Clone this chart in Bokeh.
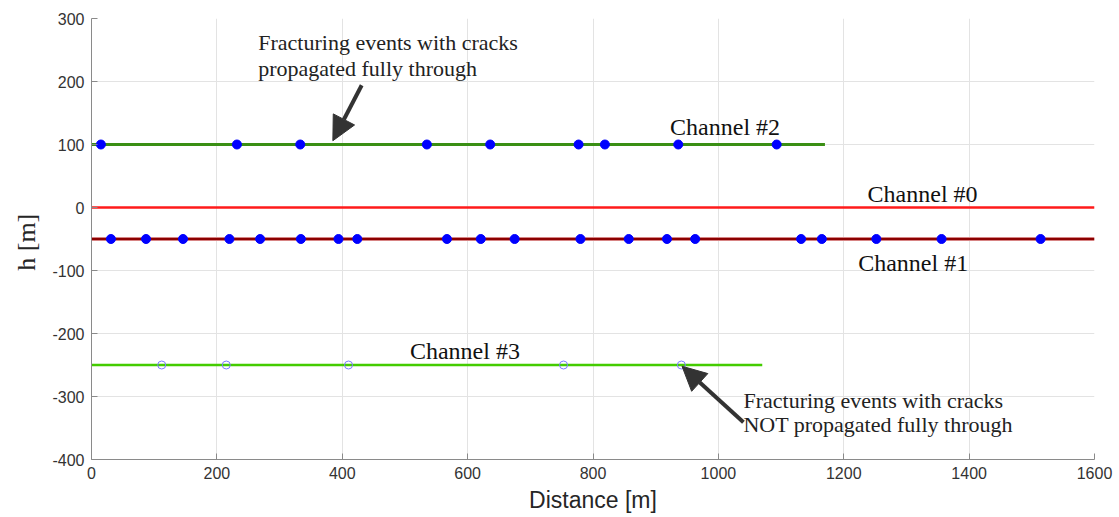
from bokeh.plotting import figure
from bokeh.models import Arrow, NormalHead, FixedTicker, Range1d, CustomJSTickFormatter
from bokeh.core.properties import value
from bokeh.embed import file_html
from bokeh.resources import INLINE

# ---- data ----
ch0_line_x = [0, 1600]
ch0_h = 0
ch1_line_x = [0, 1600]
ch1_h = -50
ch1_events = [31, 87, 146, 220, 269, 334, 394, 424, 567, 621, 675, 780, 857, 918, 963,
              1132, 1165, 1252, 1356, 1514]
ch2_line_x = [0, 1170]
ch2_h = 100
ch2_events = [15, 232, 333, 535, 636, 777, 819, 936, 1093]
ch3_line_x = [0, 1070]
ch3_h = -250
ch3_events = [112, 215, 410, 753, 941]

x_ticks = [0, 200, 400, 600, 800, 1000, 1200, 1400, 1600]
y_ticks = [-400, -300, -200, -100, 0, 100, 200, 300]

channel_labels = ["Channel #2", "Channel #0", "Channel #1", "Channel #3"]
channel_label_x = [923, 1238, 1223, 508]
channel_label_y = [128, 22, -88, -227]

note_full = ["Fracturing events with cracks", "propagated fully through"]
note_full_x = 266
note_full_y = [262, 221]
arrow_full = dict(x_start=431, y_start=194, x_end=385, y_end=106)

note_not = ["Fracturing events with cracks", "NOT propagated fully through"]
note_not_x = 1040
note_not_y = [-307, -345]
arrow_not = dict(x_start=1040, y_start=-341, x_end=942, y_end=-252)

# ---- figure ----
p = figure(width=1119, height=517, output_backend="svg", toolbar_location=None,
           x_range=Range1d(0, 1600), y_range=Range1d(-400, 300),
           min_border_left=91, min_border_right=25, min_border_top=18, min_border_bottom=58)
p.outline_line_color = None
p.background_fill_color = "white"

for ax in (p.xaxis, p.yaxis):
    ax.major_tick_in = 6
    ax.major_tick_out = 0
    ax.minor_tick_line_color = None
    ax.axis_line_color = "#8a8a8a"
    ax.major_tick_line_color = "#8a8a8a"
    ax.major_label_text_font = "Liberation Sans"
    ax.major_label_text_font_size = "16px"
    ax.major_label_text_color = "#333333"
    ax.major_label_standoff = 7
    ax.formatter = CustomJSTickFormatter(code="return String(tick);")

p.xaxis.ticker = FixedTicker(ticks=x_ticks)
p.yaxis.ticker = FixedTicker(ticks=y_ticks)
p.xaxis.axis_label = "Distance [m]"
p.xaxis.axis_label_text_font = "Liberation Sans"
p.xaxis.axis_label_text_font_size = "23px"
p.xaxis.axis_label_text_font_style = "normal"
p.xaxis.axis_label_text_color = "#262626"
p.xaxis.axis_label_standoff = 5

p.yaxis.axis_label = "h  [m]"
p.yaxis.axis_label_text_font = "Liberation Serif"
p.yaxis.axis_label_text_font_size = "26px"
p.yaxis.axis_label_text_font_style = "normal"
p.yaxis.axis_label_text_color = "#262626"
p.yaxis.axis_label_standoff = 8

p.xgrid.grid_line_color = "#e3e3e3"
p.ygrid.grid_line_color = "#e3e3e3"

# lines
p.line(ch0_line_x, [ch0_h] * 2, line_color="#ff1a1a", line_width=2.5)
p.line(ch1_line_x, [ch1_h] * 2, line_color="#f0b0b0", line_width=4)
p.line(ch1_line_x, [ch1_h] * 2, line_color="#8b0000", line_width=2.5)
p.line(ch2_line_x, [ch2_h] * 2, line_color="#3a8f14", line_width=3)
p.line(ch3_line_x, [ch3_h] * 2, line_color="#44cc00", line_width=2.5)

# events
p.scatter(ch2_events, [ch2_h] * len(ch2_events), size=9, fill_color="#0000ff", line_color="#0000ff")
p.scatter(ch1_events, [ch1_h] * len(ch1_events), size=9, fill_color="#0000ff", line_color="#0000ff")
p.scatter(ch3_events, [ch3_h] * len(ch3_events), size=8, fill_color=None, line_color="#7b7bff", line_width=1)

# channel labels
p.text(channel_label_x, channel_label_y, text=channel_labels, text_font=value("Liberation Serif"),
       text_font_size="24px", text_baseline="middle", text_align="left", text_color="#111111")

# notes
p.text([note_full_x] * 2, note_full_y, text=note_full, text_font=value("Liberation Serif"),
       text_font_size="22px", text_baseline="middle", text_align="left", text_color="#222222")
p.text([note_not_x] * 2, note_not_y, text=note_not, text_font=value("Liberation Serif"),
       text_font_size="22px", text_baseline="middle", text_align="left", text_color="#222222")

for a in (arrow_full, arrow_not):
    p.add_layout(Arrow(end=NormalHead(size=24, fill_color="#333333", line_color="#333333"),
                       line_color="#333333", line_width=4, **a))

open("out.html", "w").write(file_html(p, INLINE))
